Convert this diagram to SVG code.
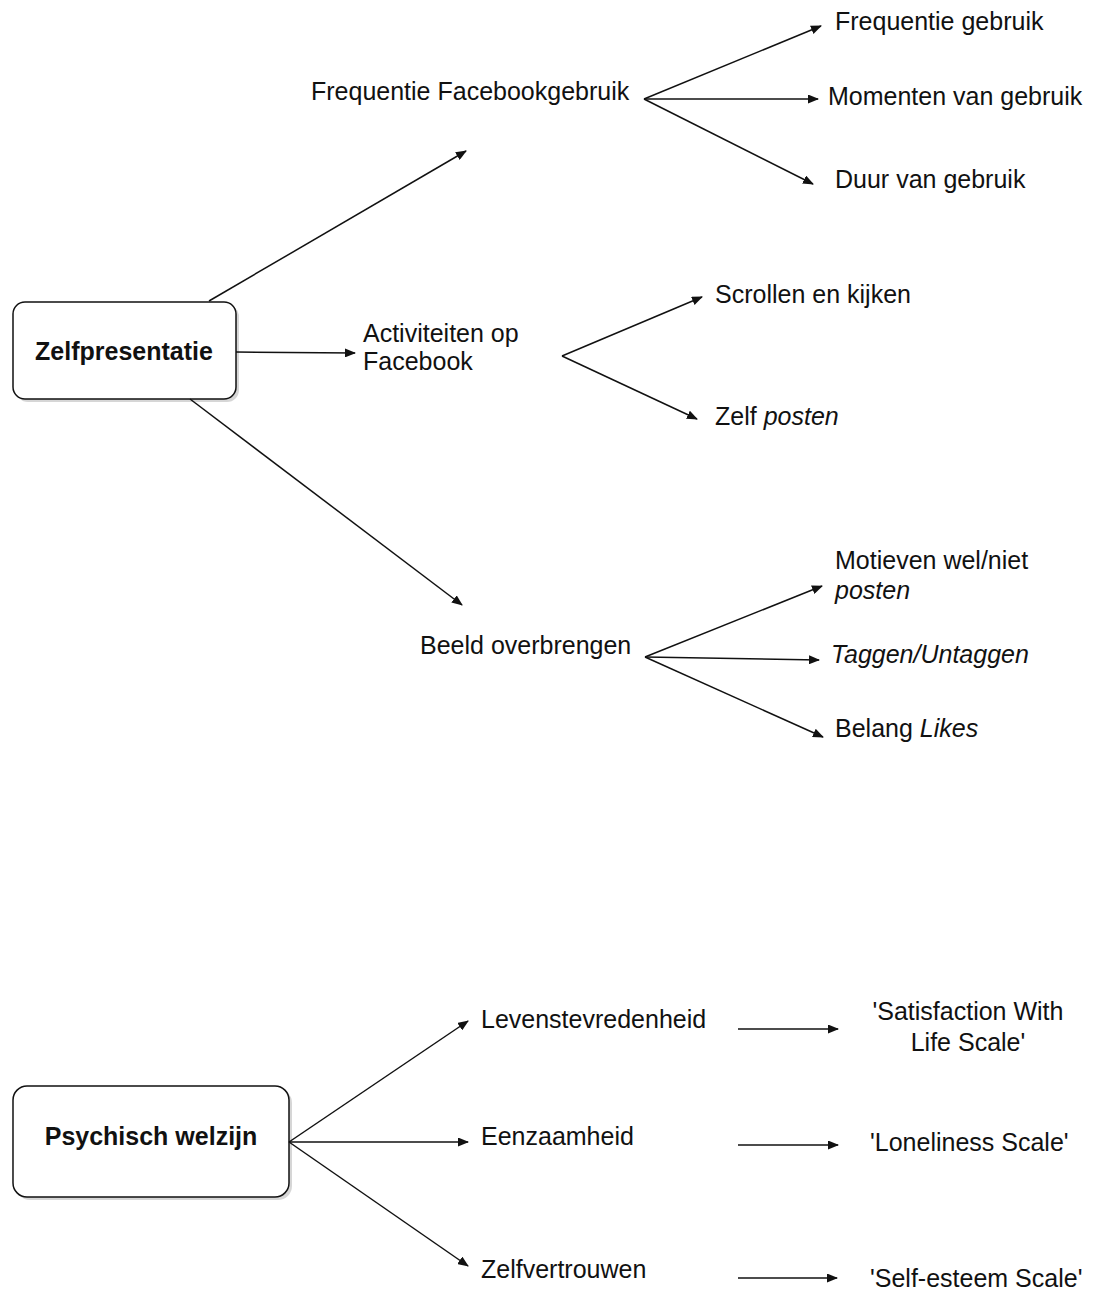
<svg xmlns="http://www.w3.org/2000/svg" width="1093" height="1292" viewBox="0 0 1093 1292">
<style>
.t{font-family:"Liberation Sans",Arial,Helvetica,sans-serif;font-size:25px;fill:#111}
.b{font-weight:bold;text-anchor:middle}
.i{font-style:italic}
.box{fill:#fff;stroke:#111;stroke-width:1.5}
.sh{fill:#bbb;opacity:0.6}
.c line{stroke:#111;stroke-width:1.5;marker-end:url(#ah)}
</style>
<defs>
<marker id="ah" markerUnits="userSpaceOnUse" viewBox="0 0 11 9" refX="10" refY="4.5" markerWidth="11" markerHeight="9" orient="auto">
<path d="M0,0 L11,4.5 L0,9 Z" fill="#111"/>
</marker>
</defs>
<rect width="1093" height="1292" fill="#fff"/>
<g id="zelfpresentatie">
<rect class="sh" x="16" y="305" width="223" height="97" rx="12"/>
<rect class="box" x="13" y="302" width="223" height="97" rx="12"/>
<text class="t b" x="124" y="360">Zelfpresentatie</text>
</g>
<g id="psychisch-welzijn">
<rect class="sh" x="16" y="1089" width="276" height="111" rx="14"/>
<rect class="box" x="13" y="1086" width="276" height="111" rx="14"/>
<text class="t b" x="151" y="1145">Psychisch welzijn</text>
</g>
<g id="frequentie-facebookgebruik"><text class="t" x="311" y="100">Frequentie Facebookgebruik</text></g>
<g id="frequentie-gebruik"><text class="t" x="835" y="30">Frequentie gebruik</text></g>
<g id="momenten"><text class="t" x="828" y="105">Momenten van gebruik</text></g>
<g id="duur"><text class="t" x="835" y="188">Duur van gebruik</text></g>
<g id="activiteiten"><text class="t" x="363" y="342">Activiteiten op</text><text class="t" x="363" y="370">Facebook</text></g>
<g id="scrollen"><text class="t" x="715" y="303">Scrollen en kijken</text></g>
<g id="zelf-posten"><text class="t" x="715" y="425">Zelf <tspan class="i">posten</tspan></text></g>
<g id="beeld"><text class="t" x="420" y="654">Beeld overbrengen</text></g>
<g id="motieven"><text class="t" x="835" y="569">Motieven wel/niet</text><text class="t i" x="835" y="599">posten</text></g>
<g id="taggen"><text class="t i" x="831" y="663">Taggen/Untaggen</text></g>
<g id="belang"><text class="t" x="835" y="737">Belang <tspan class="i">Likes</tspan></text></g>
<g id="levenstevredenheid"><text class="t" x="481" y="1028">Levenstevredenheid</text></g>
<g id="eenzaamheid"><text class="t" x="481" y="1145">Eenzaamheid</text></g>
<g id="zelfvertrouwen"><text class="t" x="481" y="1278">Zelfvertrouwen</text></g>
<g id="swls"><text class="t" x="968" y="1020" text-anchor="middle">'Satisfaction With</text><text class="t" x="968" y="1051" text-anchor="middle">Life Scale'</text></g>
<g id="loneliness"><text class="t" x="870" y="1151">'Loneliness Scale'</text></g>
<g id="self-esteem"><text class="t" x="870" y="1287">'Self-esteem Scale'</text></g>
<g id="connectors" class="c">
<line x1="209" y1="301" x2="466" y2="151"/>
<line x1="236" y1="352" x2="355" y2="353"/>
<line x1="190" y1="399" x2="462" y2="605"/>
<line x1="644" y1="99" x2="821" y2="26"/>
<line x1="644" y1="99" x2="818" y2="99"/>
<line x1="644" y1="99" x2="813" y2="184"/>
<line x1="562" y1="356" x2="702" y2="297"/>
<line x1="562" y1="356" x2="697" y2="419"/>
<line x1="645" y1="657" x2="822" y2="586"/>
<line x1="645" y1="657" x2="819" y2="660"/>
<line x1="645" y1="657" x2="823" y2="737"/>
<line x1="289" y1="1142" x2="468" y2="1021"/>
<line x1="289" y1="1142" x2="468" y2="1142"/>
<line x1="289" y1="1142" x2="468" y2="1266"/>
<line x1="738" y1="1029" x2="838" y2="1029"/>
<line x1="738" y1="1145" x2="838" y2="1145"/>
<line x1="738" y1="1278" x2="837" y2="1278"/>
</g>
</svg>
